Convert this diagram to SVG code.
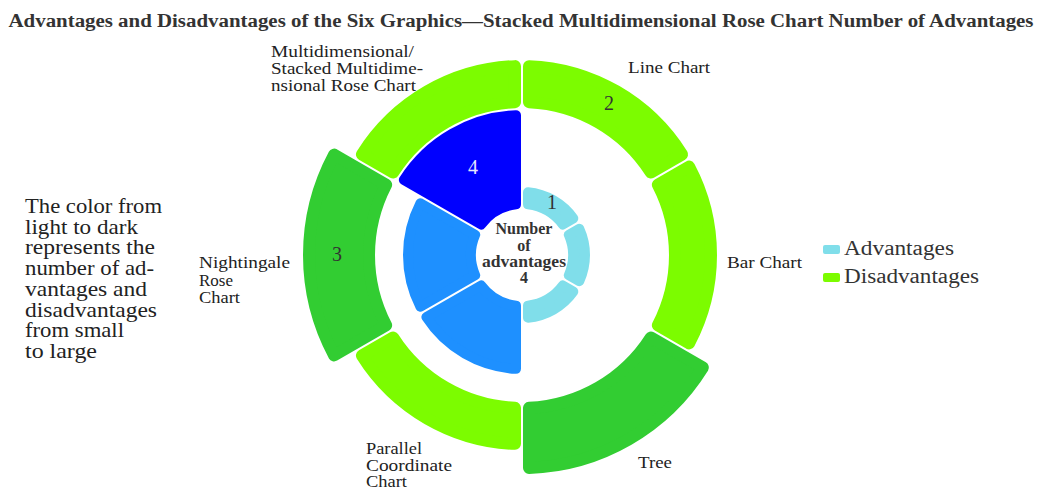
<svg xmlns="http://www.w3.org/2000/svg" width="1038" height="488" viewBox="0 0 1038 488">
<style>
.t{font-family:"Liberation Serif","Times New Roman",serif;fill:#333}
.lb{font-size:17px;fill:#222}
.lt{font-size:21px;fill:#222}
.lg2{font-size:20px;fill:#333}
.num{font-size:20px;fill:#333}
.b{font-weight:bold}
.o{stroke-width:12;stroke-linejoin:round}
.i{stroke-width:10;stroke-linejoin:round}
.lg{fill:#7CFC00;stroke:#7CFC00}
.dg{fill:#32CD32;stroke:#32CD32}
.cy{fill:#80DEEA;stroke:#80DEEA}
.db{fill:#1E90FF;stroke:#1E90FF}
.bl{fill:#0000FF;stroke:#0000FF}
</style>
<defs>
<path id="o2" d="M7.00,-188.87 A189,189 0 0 1 160.07,-100.50 L128.86,-82.48 A153,153 0 0 0 7.00,-152.84 Z"/>
<path id="o3" d="M7.00,-212.89 A213,213 0 0 1 180.86,-112.50 L128.86,-82.48 A153,153 0 0 0 7.00,-152.84 Z"/>
<path id="i1" d="M6.00,-62.71 A63,63 0 0 1 51.31,-36.55 L40.86,-30.52 A51,51 0 0 0 6.00,-50.65 Z"/>
<path id="i3" d="M6.00,-113.84 A114,114 0 0 1 95.59,-62.12 L40.86,-30.52 A51,51 0 0 0 6.00,-50.65 Z"/>
<path id="i4" d="M6.00,-139.87 A140,140 0 0 1 118.13,-75.13 L40.86,-30.52 A51,51 0 0 0 6.00,-50.65 Z"/>
</defs>
<rect width="1038" height="488" fill="#ffffff"/>
<text class="t b" x="521" y="27" font-size="18.5" text-anchor="middle" textLength="1025" lengthAdjust="spacingAndGlyphs">Advantages and Disadvantages of the Six Graphics—Stacked Multidimensional Rose Chart Number of Advantages</text>

<g id="chart" transform="translate(522 255)">
  <g id="line-chart"><use href="#i1" class="cy i"/><use href="#o2" class="lg o"/></g>
  <g id="bar-chart" transform="rotate(60)"><use href="#i1" class="cy i"/><use href="#o2" class="lg o"/></g>
  <g id="tree" transform="rotate(120)"><use href="#i1" class="cy i"/><use href="#o3" class="dg o"/></g>
  <g id="parallel-coordinate-chart" transform="rotate(180)"><use href="#i3" class="db i"/><use href="#o2" class="lg o"/></g>
  <g id="nightingale-rose-chart" transform="rotate(240)"><use href="#i3" class="db i"/><use href="#o3" class="dg o"/></g>
  <g id="multidimensional-rose-chart" transform="rotate(300)"><use href="#i4" class="bl i"/><use href="#o2" class="lg o"/></g>
</g>

<g id="values">
  <text class="t num" x="552" y="209" text-anchor="middle">1</text>
  <text class="t num" x="609" y="110" text-anchor="middle">2</text>
  <text class="t num" x="337" y="261" text-anchor="middle">3</text>
  <text class="t num" x="473" y="174" text-anchor="middle" style="fill:#E6E6FF">4</text>
</g>

<g id="center-label" class="t b" font-size="16" text-anchor="middle">
  <text x="524" y="234">Number</text>
  <text x="524" y="251">of</text>
  <text x="524" y="267" textLength="84" lengthAdjust="spacingAndGlyphs">advantages</text>
  <text x="524" y="283">4</text>
</g>

<g id="category-labels" class="t lb">
  <text x="628" y="73" textLength="82" lengthAdjust="spacingAndGlyphs">Line Chart</text>
  <text x="727" y="268" textLength="75" lengthAdjust="spacingAndGlyphs">Bar Chart</text>
  <text x="638" y="468" textLength="34" lengthAdjust="spacingAndGlyphs">Tree</text>
  <text x="366" y="454" textLength="56" lengthAdjust="spacingAndGlyphs">Parallel</text>
  <text x="366" y="471" textLength="86" lengthAdjust="spacingAndGlyphs">Coordinate</text>
  <text x="366" y="487" textLength="41" lengthAdjust="spacingAndGlyphs">Chart</text>
  <text x="199" y="268" textLength="91" lengthAdjust="spacingAndGlyphs">Nightingale</text>
  <text x="199" y="286" textLength="34" lengthAdjust="spacingAndGlyphs">Rose</text>
  <text x="199" y="303" textLength="41" lengthAdjust="spacingAndGlyphs">Chart</text>
  <text x="271" y="57" textLength="143" lengthAdjust="spacingAndGlyphs">Multidimensional/</text>
  <text x="271" y="74" textLength="152" lengthAdjust="spacingAndGlyphs">Stacked Multidime-</text>
  <text x="271" y="91" textLength="145" lengthAdjust="spacingAndGlyphs">nsional Rose Chart</text>
</g>

<g id="note" class="t lt">
  <text x="25" y="213" textLength="137" lengthAdjust="spacingAndGlyphs">The color from</text>
  <text x="25" y="233.7" textLength="113" lengthAdjust="spacingAndGlyphs">light to dark</text>
  <text x="25" y="254.4" textLength="130" lengthAdjust="spacingAndGlyphs">represents the</text>
  <text x="25" y="275.1" textLength="129" lengthAdjust="spacingAndGlyphs">number of ad-</text>
  <text x="25" y="295.8" textLength="122" lengthAdjust="spacingAndGlyphs">vantages and</text>
  <text x="25" y="316.5" textLength="132" lengthAdjust="spacingAndGlyphs">disadvantages</text>
  <text x="25" y="337.2" textLength="99" lengthAdjust="spacingAndGlyphs">from small</text>
  <text x="25" y="357.9" textLength="72" lengthAdjust="spacingAndGlyphs">to large</text>
</g>

<g id="legend" class="t lg2">
  <rect x="823" y="245" width="17" height="9" rx="2" fill="#80DEEA"/>
  <text x="844" y="255" textLength="110" lengthAdjust="spacingAndGlyphs">Advantages</text>
  <rect x="823" y="273" width="17" height="9" rx="2" fill="#7CFC00"/>
  <text x="844" y="283" textLength="135" lengthAdjust="spacingAndGlyphs">Disadvantages</text>
</g>
</svg>
